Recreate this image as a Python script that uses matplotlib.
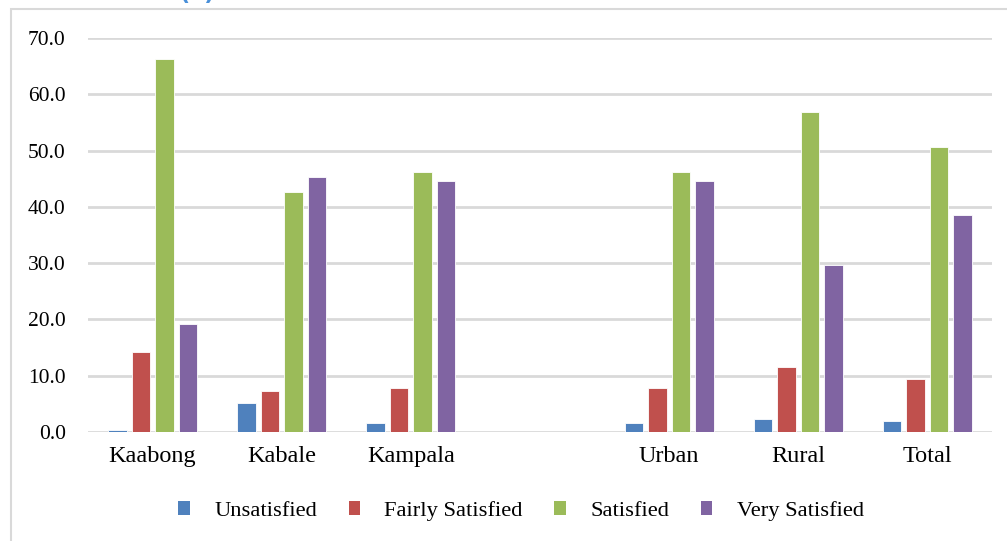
import matplotlib.pyplot as plt
import numpy as np
from matplotlib.patches import Rectangle

categories = ["Kaabong", "Kabale", "Kampala", "", "Urban", "Rural", "Total"]
series_names = ["Unsatisfied", "Fairly Satisfied", "Satisfied", "Very Satisfied"]
unsatisfied = [0.4, 5.1, 1.6, np.nan, 1.6, 2.3, 2.0]
fairly_satisfied = [14.3, 7.3, 7.9, np.nan, 7.9, 11.6, 9.4]
satisfied = [66.3, 42.7, 46.2, np.nan, 46.2, 56.8, 50.6]
very_satisfied = [19.2, 45.3, 44.6, np.nan, 44.6, 29.7, 38.5]
colors = ["#4f81bd", "#c0504d", "#9bbb59", "#8064a2"]
y_ticks = [0, 10, 20, 30, 40, 50, 60, 70]

plt.rcParams["font.family"] = ["Liberation Serif", "DejaVu Serif"]

fig = plt.figure(figsize=(10.07, 5.41), dpi=100)
ax = fig.add_axes([88 / 1007, 1 - 432 / 541, (992 - 88) / 1007, (432 - 38) / 541])

x = np.arange(len(categories))
pitch = 0.182
width = 0.143
all_series = [unsatisfied, fairly_satisfied, satisfied, very_satisfied]
for i, (vals, name, col) in enumerate(zip(all_series, series_names, colors)):
    offs = (i - 1.5) * pitch
    ax.bar(x + offs, vals, width=width, color=col, label=name,
           edgecolor="white", linewidth=0.6, zorder=3)

ax.set_xlim(-0.5, len(categories) - 0.5)
ax.set_ylim(0, 70)
ax.set_yticks(y_ticks)
ax.set_yticklabels([f"{v:.1f}" for v in y_ticks], fontsize=15.5)
ax.set_xticks(x)
ax.set_xticklabels(categories, fontsize=17.5)
ax.tick_params(axis="both", length=0, colors="#000000")
ax.tick_params(axis="y", pad=16)
ax.tick_params(axis="x", pad=10)
ax.grid(axis="y", color="#d9d9d9", linewidth=2, zorder=0)
ax.set_axisbelow(True)
for s in ax.spines.values():
    s.set_visible(False)

leg = fig.legend(loc="center", bbox_to_anchor=(521 / 1007, 1 - 511 / 541), ncol=4,
                 frameon=False, fontsize=16.2, handlelength=0.5, handleheight=0.55,
                 handletextpad=1.1, columnspacing=1.4)
for h in leg.legend_handles:
    h.set_edgecolor("none")

# outer frame
fig.patches.append(Rectangle((11 / 1007, -0.1), 1.2, 1 - 9 / 541 + 0.1,
                             transform=fig.transFigure, fill=False,
                             edgecolor="#d9d9d9", linewidth=1.5))
fig.text(197 / 1007, 1 - 4 / 541, "(a)", color="#4a90d9", fontsize=16, fontweight="bold",
         ha="center", va="bottom", family="DejaVu Sans")

fig.savefig("out.png", dpi=100)
